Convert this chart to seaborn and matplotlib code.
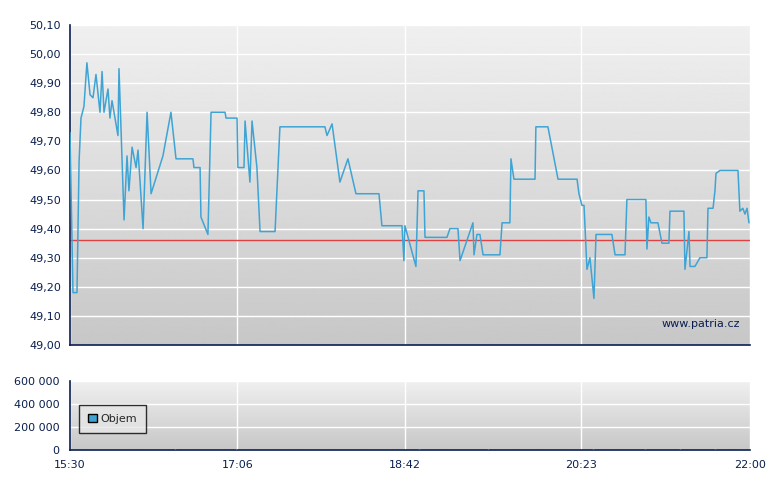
import numpy as np
import pandas as pd
import matplotlib
matplotlib.use("Agg")
import matplotlib.pyplot as plt
import seaborn as sns
from matplotlib.ticker import FuncFormatter

sns.set_style("white")
plt.rcParams['font.family'] = ['DejaVu Sans']

# minutes since 15:30
minutes = [0, 1.7, 4, 5.2, 6.3, 8, 9.7, 11.5, 13.2, 14.9, 17.2, 18.4, 19.5, 21.8, 22.9, 24.1, 27.5, 28.1,
           31, 32.7, 33.8, 35.6, 37.9, 39, 41.9, 44.2, 46.5, 53.3, 57.9, 60.8, 70.5, 71.1, 74.6, 75.1, 79.1,
           80.9, 88.9, 89.5, 95.8, 96.3, 99.8, 100.4, 103.2, 104.4, 107.2, 109, 117.6, 120.4, 146.2, 147.4,
           150.3, 154.8, 159.4, 164, 177.2, 178.9, 190.4, 191.5, 192.1, 198.4, 199.6, 203, 203.6, 216.2,
           217.9, 222.5, 223.7, 231.1, 231.7, 233.4, 235.1, 236.9, 246.6, 247.8, 252.3, 252.9, 254.6, 266.7,
           267.2, 274.1, 279.9, 290.8, 291.9, 293.6, 294.8, 296.5, 298.2, 300.5, 301.7, 310.8, 312.6, 318.3,
           319.4, 330.3, 330.9, 332, 333.2, 337.2, 339.5, 343.5, 344.1, 352.1, 352.7, 355, 355.6, 358.4,
           361.3, 365.3, 365.9, 368.8, 369.9, 370.5, 372.8, 383.1, 384.2, 385.9, 387.1, 388.3, 389.4]
prices = [49.73, 49.18, 49.18, 49.63, 49.78, 49.82, 49.97, 49.86, 49.85, 49.93, 49.80, 49.94, 49.80, 49.88,
          49.78, 49.84, 49.72, 49.95, 49.43, 49.65, 49.53, 49.68, 49.61, 49.67, 49.40, 49.80, 49.52, 49.65,
          49.80, 49.64, 49.64, 49.61, 49.61, 49.44, 49.38, 49.80, 49.80, 49.78, 49.78, 49.61, 49.61, 49.77,
          49.56, 49.77, 49.61, 49.39, 49.39, 49.75, 49.75, 49.72, 49.76, 49.56, 49.64, 49.52, 49.52, 49.41,
          49.41, 49.29, 49.41, 49.27, 49.53, 49.53, 49.37, 49.37, 49.40, 49.40, 49.29, 49.42, 49.31, 49.38,
          49.38, 49.31, 49.31, 49.42, 49.42, 49.64, 49.57, 49.57, 49.75, 49.75, 49.57, 49.57, 49.52, 49.48,
          49.48, 49.26, 49.30, 49.16, 49.38, 49.38, 49.31, 49.31, 49.50, 49.50, 49.33, 49.44, 49.42, 49.42,
          49.35, 49.35, 49.46, 49.46, 49.26, 49.39, 49.27, 49.27, 49.30, 49.30, 49.47, 49.47, 49.53, 49.59,
          49.60, 49.60, 49.46, 49.47, 49.45, 49.47, 49.42]
ref_price = 49.36
vol_minutes = [5, 20, 45, 60, 95, 130, 160, 200, 240, 280, 300, 330, 350, 370, 385]
volumes = [3000, 4000, 2500, 5000, 6000, 4000, 3000, 5000, 7000, 4000, 6000, 9000, 5000, 6000, 4000]
tick_pos = [0, 96, 192, 293, 390]
tick_lab = ["15:30", "17:06", "18:42", "20:23", "22:00"]

navy = "#0a1f4f"
line_c = "#3fa4d4"

fig = plt.figure(figsize=(7.8, 4.9), dpi=100)
ax = fig.add_axes([70/780, 1-345/490, 680/780, 320/490])
ax2 = fig.add_axes([70/780, 1-450/490, 680/780, 69/490])

def grad(a, y_top, y_bot):
    g = np.linspace(0.94, 0.78, 256).reshape(-1, 1)
    a.imshow(g, cmap="gray", vmin=0, vmax=1, aspect="auto",
             extent=[0, 390, y_bot, y_top], origin="upper", zorder=0)

df = pd.DataFrame({"m": minutes, "p": prices})
grad(ax, 50.10, 49.0)
sns.lineplot(data=df, x="m", y="p", ax=ax, color=line_c, lw=1.1, zorder=3, estimator=None, sort=False)
ax.axhline(ref_price, color="#e04040", lw=1, zorder=2)
ax.set_xlim(0, 390); ax.set_ylim(49.0, 50.10)
ax.set_yticks(np.arange(49.0, 50.11, 0.1))
ax.yaxis.set_major_formatter(FuncFormatter(lambda v, p: f"{v:.2f}".replace(".", ",")))
ax.set_xticks(tick_pos); ax.set_xticklabels([])
ax.grid(True, color="white", lw=1)
for l in ax.get_xgridlines() + ax.get_ygridlines():
    l.set_zorder(1)
ax.text(0.985, 0.05, "www.patria.cz", transform=ax.transAxes, ha="right", va="bottom", fontsize=8, color=navy, zorder=4)

grad(ax2, 600000, 0)
vdf = pd.DataFrame({"m": vol_minutes, "v": volumes})
ax2.vlines(vdf["m"], 0, vdf["v"], color=line_c, lw=1, zorder=3)
ax2.set_xlim(0, 390); ax2.set_ylim(0, 600000)
ax2.set_yticks([0, 200000, 400000, 600000])
ax2.yaxis.set_major_formatter(FuncFormatter(lambda v, p: f"{int(v):,}".replace(",", " ")))
ax2.set_xticks(tick_pos); ax2.set_xticklabels(tick_lab)
ax2.grid(True, color="white", lw=1)
for l in ax2.get_xgridlines() + ax2.get_ygridlines():
    l.set_zorder(1)
from matplotlib.patches import Patch
leg = ax2.legend(handles=[Patch(facecolor=line_c, edgecolor="black", label="Objem")], loc="center left",
                 bbox_to_anchor=(0.005, 0.45), frameon=True, fancybox=False, fontsize=8,
                 handlelength=0.8, handleheight=0.8, handletextpad=0.3, borderpad=0.8)
leg.get_frame().set_edgecolor("black"); leg.get_frame().set_facecolor("#e6e6e6")

for a in (ax, ax2):
    for s in ("top", "right"):
        a.spines[s].set_visible(False)
    for s in ("left", "bottom"):
        a.spines[s].set_color(navy); a.spines[s].set_linewidth(1.2)
    a.tick_params(axis="both", colors=navy, labelsize=8, length=4, direction="out", labelcolor=navy)
    a.set_xlabel(""); a.set_ylabel("")
ax.tick_params(axis="y", length=3)

fig.savefig("out.png", dpi=100, facecolor="white")
